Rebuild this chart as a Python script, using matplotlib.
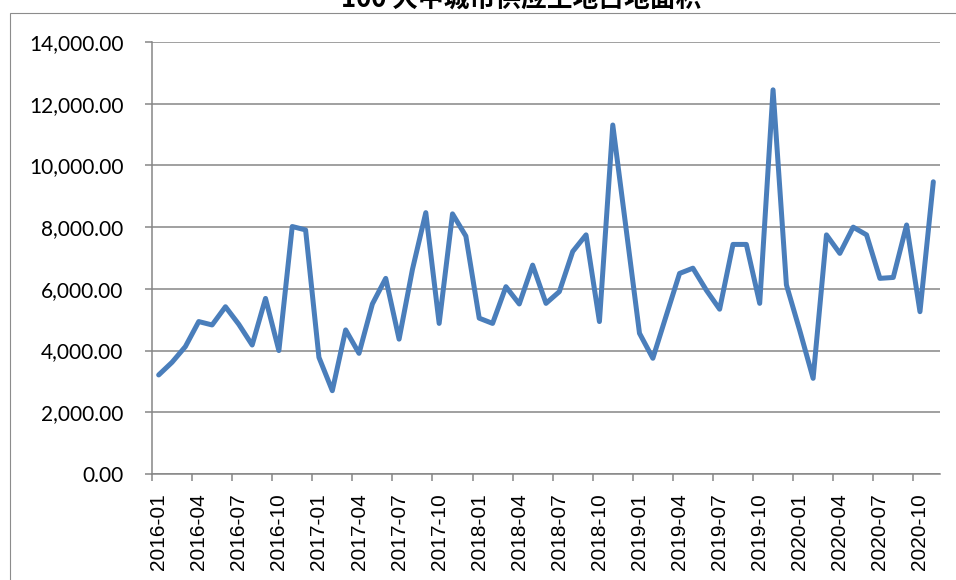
import numpy as np
import matplotlib.pyplot as plt
from matplotlib.patches import Rectangle
from matplotlib.ticker import FuncFormatter

# 2016-01 .. 2020-11, monthly
months = ['%d-%02d' % (y, m) for y in range(2016, 2021) for m in range(1, 13)][:59]
area = [3210, 3620, 4130, 4940, 4830, 5420, 4850, 4180, 5690, 4000,
        8020, 7910, 3780, 2700, 4670, 3910, 5510, 6340, 4370, 6630,
        8470, 4880, 8430, 7710, 5050, 4880, 6070, 5510, 6770, 5530,
        5910, 7210, 7750, 4940, 11310, 7940, 4560, 3750, 5130, 6500,
        6670, 5960, 5340, 7440, 7440, 5530, 12450, 6130, 4650, 3100,
        7750, 7150, 8000, 7750, 6340, 6370, 8070, 5260, 9470]
title = '100 大中城市供应土地占地面积'

grey = '#868686'
blue = '#4A7EBB'

fig = plt.figure(figsize=(9.56, 5.8), dpi=100)
ax = fig.add_axes([152/956, 1-474/580, (940-152)/956, (474-42)/580])

x = np.arange(len(area))
ax.plot(x, area, color=blue, lw=3.6, solid_joinstyle='round', solid_capstyle='round', zorder=3)

ax.set_xlim(-0.5, len(area) - 0.5)
ax.set_ylim(0, 14000)
ax.set_yticks(np.arange(0, 14001, 2000))
ax.yaxis.set_major_formatter(FuncFormatter(lambda v, p: '{:,.2f}'.format(v)))
ax.grid(axis='y', color=grey, lw=1.1)
ax.set_axisbelow(True)

ax.set_xticks(x[::3])
ax.set_xticklabels(months[::3], rotation=90, fontsize=15, family='Liberation Sans')
ax.set_xticks(np.arange(-0.5, len(area) - 1, 3), minor=True)
ax.tick_params(axis='x', which='major', length=0, pad=13.5)
ax.tick_params(axis='x', which='minor', length=5, width=1.1, color=grey, direction='out')
ax.tick_params(axis='y', length=5, width=1.1, color=grey, pad=15.5)
for lab in ax.get_yticklabels():
    lab.set_family('Lato')
    lab.set_fontsize(15)

for s in ['top', 'right']:
    ax.spines[s].set_visible(False)
for s in ['left', 'bottom']:
    ax.spines[s].set_color(grey)
    ax.spines[s].set_linewidth(1.1)

# chart area border (runs off the right and bottom edges)
fig.patches.append(Rectangle((9.5/956, -0.1), 1.2, 1 - 13/580 + 0.1,
                             transform=fig.transFigure, fill=False,
                             edgecolor='#8c8c8c', lw=0.8))

fig.text(521/956, 1 - 6.5/580, title, ha='center', va='baseline',
         fontsize=18.5, fontweight='bold',
         family=['Noto Sans CJK SC', 'DejaVu Sans'])

fig.savefig('out.png', dpi=100)
